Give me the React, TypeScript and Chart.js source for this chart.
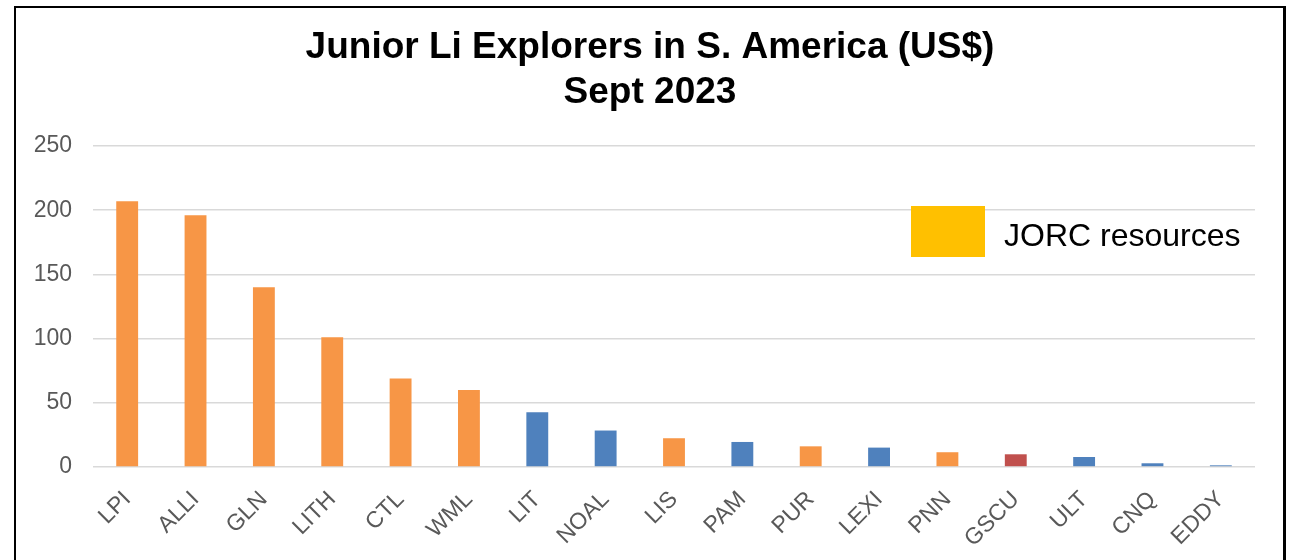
import React, { useEffect, useRef } from "react";
import { Chart, registerables } from "chart.js";

Chart.register(...registerables);

const titleLines = ["Junior Li Explorers in S. America (US$)", "Sept 2023"];
const categories = ["LPI", "ALLI", "GLN", "LITH", "CTL", "WML", "LIT", "NOAL", "LIS", "PAM", "PUR", "LEXI", "PNN", "GSCU", "ULT", "CNQ", "EDDY"];
const values = [207, 196, 140, 101, 69, 60, 42.7, 28.4, 22.4, 19.5, 16.1, 15.1, 11.5, 9.9, 7.8, 2.9, 1.3];
// O = orange, B = blue, R = red
const colorKeys = ["O", "O", "O", "O", "O", "O", "B", "B", "O", "B", "O", "B", "O", "R", "B", "B", "B"];
const palette: Record<string, string> = { O: "#F79646", B: "#4F81BD", R: "#C0504D" };
const legendLabel = "JORC resources";
const legendColor = "#FFC000";
const yMin = 0;
const yMax = 250;
const yStep = 50;

const FONT = "'Liberation Sans', Arial, sans-serif";

const titlePlugin = {
  id: "frameTitle",
  afterDraw(chart: any) {
    const { ctx } = chart;
    ctx.save();
    ctx.fillStyle = "#000000";
    ctx.font = `bold 37px ${FONT}`;
    ctx.textAlign = "center";
    ctx.textBaseline = "alphabetic";
    titleLines.forEach((line, i) => {
      ctx.fillText(line, 650, 58 + i * 45);
    });
    ctx.restore();
  },
};

const legendPlugin = {
  id: "customLegend",
  afterDraw(chart: any) {
    const { ctx, chartArea } = chart;
    ctx.save();
    const boxX = chartArea.right - 344;
    const boxY = chartArea.top + 60;
    ctx.fillStyle = legendColor;
    ctx.fillRect(boxX, boxY, 74, 51);
    ctx.fillStyle = "#000000";
    ctx.font = `32px ${FONT}`;
    ctx.textBaseline = "alphabetic";
    ctx.textAlign = "left";
    ctx.fillText(legendLabel, boxX + 93, boxY + 40);
    ctx.restore();
  },
};

export default function App() {
  const canvasRef = useRef<HTMLCanvasElement | null>(null);

  useEffect(() => {
    if (!canvasRef.current) return;
    const chart = new Chart(canvasRef.current, {
      type: "bar",
      data: {
        labels: categories,
        datasets: [
          {
            data: values,
            backgroundColor: colorKeys.map((k) => palette[k]),
            borderWidth: 0,
            barPercentage: 0.32,
            categoryPercentage: 1,
          },
        ],
      },
      options: {
        animation: false,
        responsive: false,
        devicePixelRatio: 1,
        layout: { padding: { left: 0, right: 36, top: 146, bottom: 0 } },
        plugins: {
          legend: { display: false },
          tooltip: { enabled: false },
          title: { display: false },
        },
        scales: {
          x: {
            grid: { display: false },
            border: { display: false },
            ticks: {
              color: "#595959",
              font: { family: FONT, size: 23 },
              maxRotation: 45,
              minRotation: 45,
              autoSkip: false,
              padding: 11,
            },
            afterFit(scale: any) {
              scale.height = 93;
            },
          },
          y: {
            min: yMin,
            max: yMax,
            border: { display: false },
            grid: { color: "#D9D9D9", lineWidth: 1.6, drawTicks: false },
            ticks: {
              stepSize: yStep,
              color: "#595959",
              font: { family: FONT, size: 23 },
              padding: 21,
            },
            afterFit(scale: any) {
              scale.width = 93;
            },
          },
        },
      },
      plugins: [titlePlugin, legendPlugin],
    });
    return () => chart.destroy();
  }, []);

  return (
    <div style={{ position: "fixed", left: 0, top: 0, width: 1291, height: 560, background: "#ffffff", overflow: "hidden" }}>
      <div
        style={{
          position: "absolute",
          left: 14,
          top: 6,
          width: 1272,
          height: 620,
          boxSizing: "border-box",
          borderTop: "2px solid #000",
          borderLeft: "2px solid #000",
          borderRight: "3px solid #000",
        }}
      />
      <canvas ref={canvasRef} width={1291} height={560} style={{ position: "absolute", left: 0, top: 0, width: 1291, height: 560 }} />
    </div>
  );
}
